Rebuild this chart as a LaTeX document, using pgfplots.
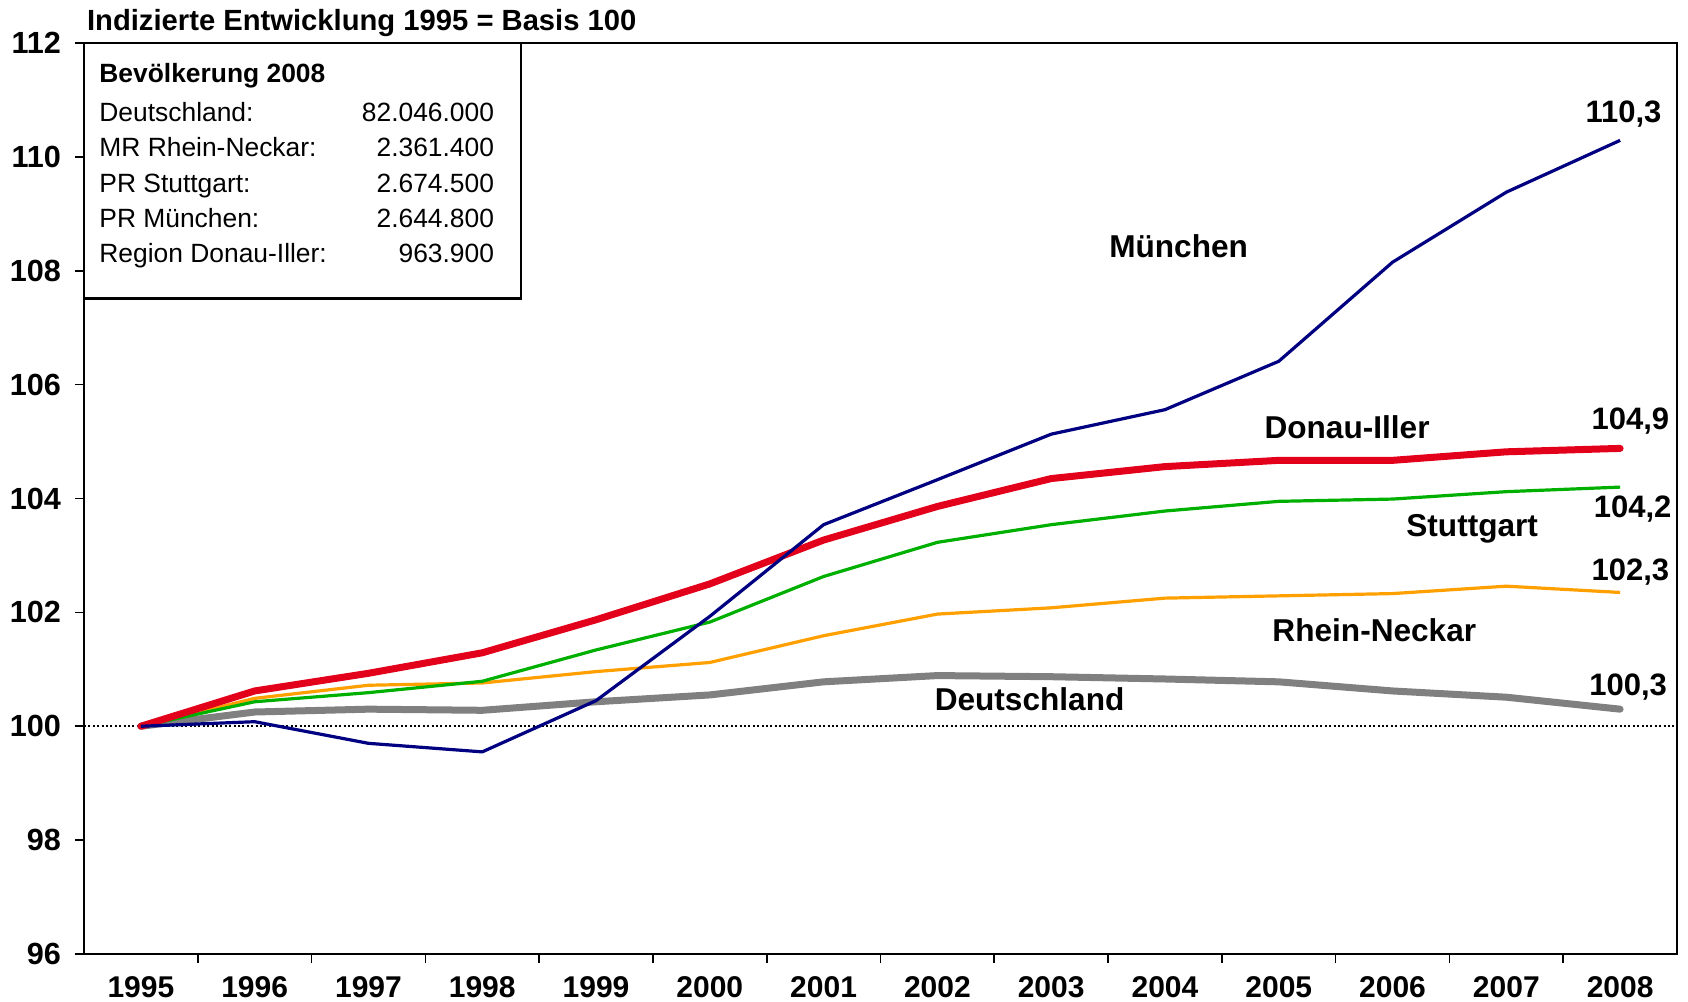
\documentclass[border=0pt]{standalone}
\usepackage{fontspec}
\setmainfont{Liberation Sans}
\usepackage{pgfplots}
\pgfplotsset{compat=1.18}
\definecolor{muc}{RGB}{0,0,128}
\definecolor{dui}{RGB}{227,0,27}
\definecolor{stu}{RGB}{0,176,0}
\definecolor{rhn}{RGB}{255,160,0}
\definecolor{deu}{RGB}{128,128,128}

\begin{document}
\begin{tikzpicture}
\begin{axis}[
  name=ax,
  scale only axis,
  width=796.5pt, height=455.5pt,
  xmin=-0.5, xmax=13.5, ymin=96, ymax=112,
  axis line style={line width=0.9pt},
  xtick={0,...,13},
  xticklabels={1995,1996,1997,1998,1999,2000,2001,2002,2003,2004,2005,2006,2007,2008},
  ytick={96,98,...,112},
  tick pos=left,
  tick align=outside,
  major tick length=4.5pt,
  tick style={line width=0.8pt,black},
  xtick style={draw=none},
  extra x ticks={0.5,1.5,...,12.5},
  extra x tick labels={},
  extra x tick style={xtick style={draw=black}},
  xticklabel style={font=\fontsize{15}{17}\selectfont\bfseries, yshift=-3.2pt},
  yticklabel style={font=\fontsize{15.3}{17}\selectfont\bfseries, xshift=-3.5pt},
  /pgf/number format/assume math mode=true,
  clip=false,
]
% Basislinie 100
\addplot[black, line width=1pt, dash pattern=on 1pt off 1.2pt] coordinates {(-0.5,100) (13.5,100)};

% Deutschland
\addplot[deu, line width=3.5pt, line join=round, line cap=round] coordinates {
(0,100) (1,100.25) (2,100.30) (3,100.28) (4,100.43) (5,100.55) (6,100.78)
(7,100.89) (8,100.87) (9,100.83) (10,100.78) (11,100.62) (12,100.51) (13,100.30)};
% Rhein-Neckar
\addplot[rhn, line width=1.6pt, line join=round] coordinates {
(0,100) (1,100.49) (2,100.72) (3,100.76) (4,100.96) (5,101.12) (6,101.59)
(7,101.97) (8,102.08) (9,102.25) (10,102.29) (11,102.33) (12,102.46) (13,102.35)};
% Stuttgart
\addplot[stu, line width=1.6pt, line join=round] coordinates {
(0,100) (1,100.43) (2,100.59) (3,100.79) (4,101.34) (5,101.83) (6,102.63)
(7,103.23) (8,103.54) (9,103.78) (10,103.95) (11,103.99) (12,104.12) (13,104.20)};
% Donau-Iller
\addplot[dui, line width=3.5pt, line join=round, line cap=round] coordinates {
(0,100) (1,100.62) (2,100.93) (3,101.29) (4,101.87) (5,102.50) (6,103.27)
(7,103.86) (8,104.35) (9,104.56) (10,104.67) (11,104.67) (12,104.82) (13,104.88)};
% Muenchen
\addplot[muc, line width=1.6pt, line join=round] coordinates {
(0,100) (1,100.08) (2,99.70) (3,99.55) (4,100.45) (5,101.93) (6,103.54)
(7,104.33) (8,105.13) (9,105.56) (10,106.41) (11,108.15) (12,109.38) (13,110.29)};

% Titel
\node[anchor=west, font=\fontsize{14.6}{17}\selectfont\bfseries, xshift=-2pt, yshift=10.2pt]
  at (rel axis cs:0,1) {Indizierte Entwicklung 1995 = Basis 100};

% Kasten
\draw[line width=1.3pt, fill=white] (rel axis cs:0,1) rectangle (axis cs:3.34,107.51);
\begin{scope}[every node/.style={font=\fontsize{13.2}{15}\selectfont, inner sep=0pt}]
\node[anchor=base west, font=\fontsize{13.2}{15}\selectfont\bfseries] at (axis cs:-0.368,111.31) {Bevölkerung 2008};
\node[anchor=base west] at (axis cs:-0.368,110.63) {Deutschland:};
\node[anchor=base west] at (axis cs:-0.368,110.01) {MR Rhein-Neckar:};
\node[anchor=base west] at (axis cs:-0.368,109.38) {PR Stuttgart:};
\node[anchor=base west] at (axis cs:-0.368,108.76) {PR München:};
\node[anchor=base west] at (axis cs:-0.368,108.14) {Region Donau-Iller:};
\node[anchor=base east] at (axis cs:3.107,110.63) {82.046.000};
\node[anchor=base east] at (axis cs:3.107,110.01) {2.361.400};
\node[anchor=base east] at (axis cs:3.107,109.38) {2.674.500};
\node[anchor=base east] at (axis cs:3.107,108.76) {2.644.800};
\node[anchor=base east] at (axis cs:3.107,108.14) {963.900};
\end{scope}

% Reihenbeschriftungen
\begin{scope}[every node/.style={font=\fontsize{15.8}{18}\selectfont\bfseries, inner sep=0pt}]
\node at (axis cs:9.12,108.43) {München};
\node at (axis cs:10.6,105.26) {Donau-Iller};
\node at (axis cs:11.7,103.47) {Stuttgart};
\node at (axis cs:10.84,101.68) {Rhein-Neckar};
\node at (axis cs:7.81,100.47) {Deutschland};
\end{scope}
\begin{scope}[every node/.style={font=\fontsize{15.5}{18}\selectfont\bfseries, inner sep=0pt}]
\node at (axis cs:13.03,110.75) {110,3};
\node at (axis cs:13.09,105.36) {104,9};
\node at (axis cs:13.11,103.81) {104,2};
\node at (axis cs:13.09,102.70) {102,3};
\node at (axis cs:13.07,100.68) {100,3};
\end{scope}
\end{axis}
\pgfresetboundingbox
\path ([xshift=-42pt,yshift=-24pt]ax.south west) rectangle ([xshift=5.5pt,yshift=21.5pt]ax.north east);
\end{tikzpicture}
\end{document}
